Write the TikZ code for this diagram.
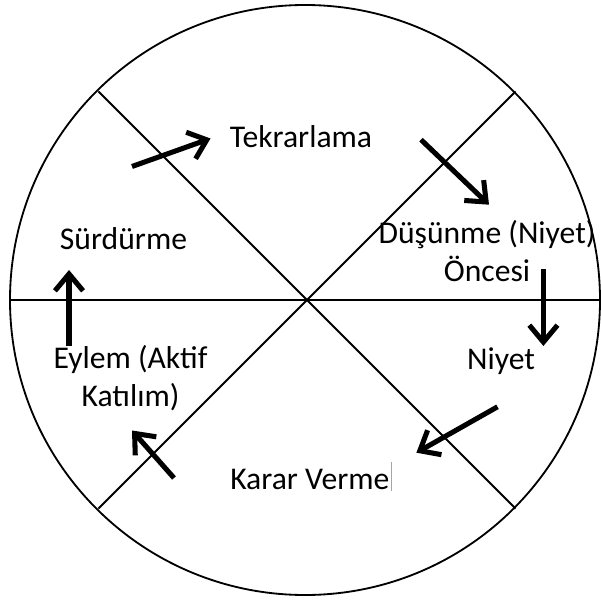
\documentclass[tikz,border=0pt]{standalone}
\usepackage{fontspec}
\setmainfont{Carlito}
\usetikzlibrary{arrows.meta}

\begin{document}
\begin{tikzpicture}[x=0.025cm, y=-0.025cm,
  lbl/.style={anchor=base, align=center, inner sep=0pt,
              font=\fontsize{22.5}{27}\selectfont},
  rim/.style={line width=1.3pt},
  arr/.style={line width=3.6pt, -{Straight Barb[length=12pt, width=20pt]}}
]
\useasboundingbox (0,0) rectangle (600,603);
\coordinate (c) at (307,300);
% wheel
\draw[rim] (305,300) circle [radius=295];
\draw[rim] (c) ++(180:296) -- ++(0:592);
\draw[rim] (c) ++(135:295) -- ++(-45:590);
\draw[rim] (c) ++(45:295) -- ++(225:590);
% stages
\node[lbl] (tekr)  at (301,148)   {Tekrarlama};
\node[lbl] (dus)   at (487,281)   {Düşünme (Niyet)\\Öncesi};
\node[lbl] (niyet) at (501,369)   {Niyet};
\node[lbl, anchor=base west] (karar) at (230,489)
  {Karar Verme\kern1pt\textcolor{black!35}{\rule[-0.05em]{0.7pt}{0.9em}}};
\node[lbl] (eylem) at (130.5,406) {Eylem (Aktif\\Katılım)};
\node[lbl] (surd)  at (123.5,249.5) {Sürdürme};
% arrows
\coordinate (a1) at (132,166.5);  \coordinate (b1) at (210.5,138.5);
\coordinate (a2) at (421,139.7);  \coordinate (b2) at (489,204.7);
\coordinate (a3) at (543.4,269);  \coordinate (b3) at (543.4,346);
\coordinate (a4) at (497.5,406.8); \coordinate (b4) at (416.4,452.7);
\coordinate (a5) at (174,478);    \coordinate (b5) at (132,430.5);
\coordinate (a6) at (69,346);     \coordinate (b6) at (69,270);
\foreach \i in {1,...,6}
  \draw[arr] (a\i) -- (b\i);
\end{tikzpicture}
\end{document}
